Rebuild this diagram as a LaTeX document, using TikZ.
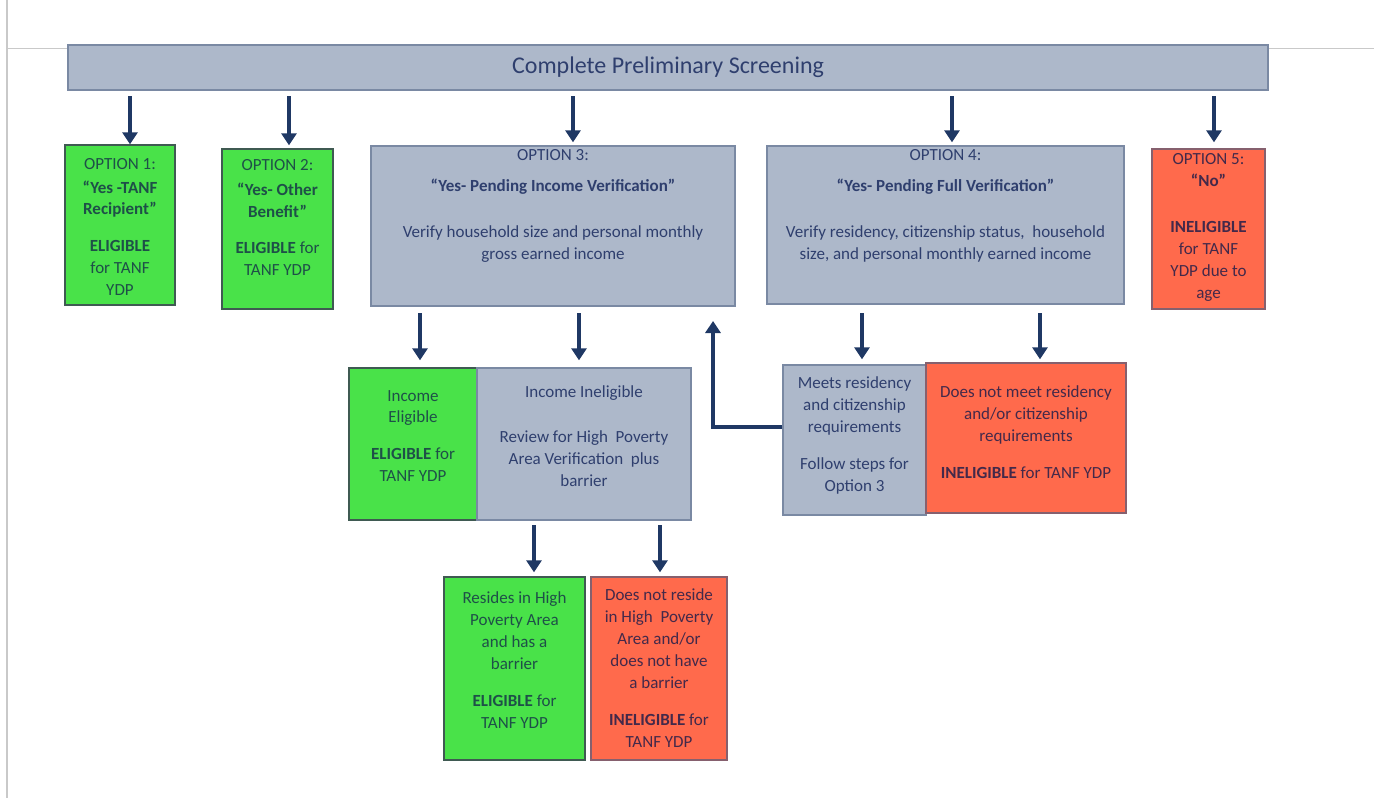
\documentclass[tikz,border=0pt]{standalone}
\usepackage{fontspec}
\setmainfont{Carlito}
\usetikzlibrary{arrows.meta}
\definecolor{navy}{HTML}{1F3864}
\definecolor{bgfill}{HTML}{ADB8CA}
\definecolor{bgdraw}{HTML}{7A89A3}
\definecolor{grfill}{HTML}{49E249}
\definecolor{grdraw}{HTML}{3F5A52}
\definecolor{rdfill}{HTML}{FF6A4C}
\definecolor{rddraw}{HTML}{86606E}
\definecolor{tblue}{HTML}{2F3F6E}
\definecolor{tgreen}{HTML}{1E5048}
\definecolor{tred}{HTML}{43294A}
\definecolor{frame}{HTML}{C9C9C9}
\tikzset{
  bbox/.style={draw=bgdraw, fill=bgfill, line width=1.4pt, inner sep=0pt},
  gbox/.style={draw=grdraw, fill=grfill, line width=1.4pt, inner sep=0pt},
  rbox/.style={draw=rddraw, fill=rdfill, line width=1.4pt, inner sep=0pt},
  txt/.style={align=center, inner sep=0pt, anchor=north, font=\fontsize{17pt}{22pt}\selectfont},
  btxt/.style={txt, text=tblue},
  gtxt/.style={txt, text=tgreen},
  rtxt/.style={txt, text=tred},
  arr/.style={draw=navy, line width=4.5pt, -{Triangle[width=15pt,length=12pt]}},
}
\begin{document}
\begin{tikzpicture}[x=1pt,y=-1pt]
\useasboundingbox (0,0) rectangle (1374,798);
\fill[white] (0,0) rectangle (1374,798);
% page frame lines
\draw[frame, line width=2pt] (7,0) -- (7,798);
\draw[frame, line width=1.2pt] (7,48.5) -- (1374,48.5);

% banner
\node[bbox, minimum width=1200pt, minimum height=45pt, text=tblue, font=\fontsize{24pt}{28pt}\selectfont] (banner) at (668,67.5) {Complete Preliminary Screening};

% option boxes
\node[gbox, minimum width=110pt, minimum height=160pt] (o1) at (120,225) {};
\node[gbox, minimum width=111pt, minimum height=160pt] (o2) at (277.5,229) {};
\node[bbox, minimum width=364pt, minimum height=160pt] (o3) at (553,226) {};
\node[bbox, minimum width=357pt, minimum height=158pt] (o4) at (945.5,225) {};
\node[rbox, minimum width=113pt, minimum height=160pt] (o5) at (1208.5,229) {};

\node[gtxt] (o1t) at (120,158) {OPTION 1:\\[2pt]\textbf{“Yes -TANF}\\[-1pt]\textbf{Recipient”}\\[15pt]\textbf{ELIGIBLE}\\for TANF\\YDP};
\node[gtxt] (o2t) at (277.5,159) {OPTION 2:\\[3pt]\textbf{“Yes- Other}\\\textbf{Benefit”}\\[14pt]\textbf{ELIGIBLE} for\\TANF YDP};
\node[btxt] (o3t) at (553,149) {OPTION 3:\\[9pt]\textbf{“Yes- Pending Income Verification”}\\[24pt]Verify household size and personal monthly\\gross earned income};
\node[btxt] (o4t) at (945.5,149) {OPTION 4:\\[9pt]\textbf{“Yes- Pending Full Verification”}\\[24pt]Verify residency, citizenship status, \ household\\size, and personal monthly earned income};
\node[rtxt] (o5t) at (1208.5,153) {OPTION 5:\\\textbf{“No”}\\[24pt]\textbf{INELIGIBLE}\\for TANF\\YDP due to\\age};

% arrows from banner
\coordinate (s1) at (130,96);
\coordinate (s2) at (289,96);
\coordinate (s3) at (573,96);
\coordinate (s4) at (952,96);
\coordinate (s5) at (1214,96);
\draw[arr] (s1) -- (s1 |- o1.north);
\draw[arr] (s2) -- ([yshift=3pt]s2 |- o2.north);
\draw[arr] (s3) -- ([yshift=3pt]s3 |- o3.north);
\draw[arr] (s4) -- ([yshift=3pt]s4 |- o4.north);
\draw[arr] (s5) -- ([yshift=6pt]s5 |- o5.north);

% second row
\node[gbox, minimum width=128pt, minimum height=152pt] (ie) at (413,444) {};
\node[bbox, minimum width=214pt, minimum height=152pt] (ii) at (584,444) {};
\node[bbox, minimum width=143pt, minimum height=150pt] (mr) at (854.5,440) {};
\node[rbox, minimum width=200pt, minimum height=150pt] (nm) at (1026,438) {};

\node[gtxt] (iet) at (413,390) {Income\\[-1pt]Eligible\\[15pt]\textbf{ELIGIBLE} for\\TANF YDP};
\node[btxt] (iit) at (584,385) {Income Ineligible\\[23pt]Review for High \ Poverty\\Area Verification \ plus\\barrier};
\node[btxt] (mrt) at (854.5,376) {Meets residency\\and citizenship\\requirements\\[15pt]Follow steps for\\Option 3};
\node[rtxt] (nmt) at (1026,385) {Does not meet residency\\and/or citizenship\\requirements\\[15pt]\textbf{INELIGIBLE} for TANF YDP};

\coordinate (s6) at (420,313);
\coordinate (s7) at (579,313);
\coordinate (s8) at (862,313);
\coordinate (s9) at (1040,313);
\draw[arr] (s6) -- ([yshift=7pt]s6 |- ie.north);
\draw[arr] (s7) -- ([yshift=7pt]s7 |- ii.north);
\draw[arr] (s8) -- ([yshift=5pt]s8 |- mr.north);
\draw[arr] (s9) -- ([yshift=3pt]s9 |- nm.north);

% loop back to option 3
\coordinate (up) at (713,321);
\draw[arr] ([yshift=13pt]mr.west) -| (up);

% third row
\node[gbox, minimum width=141pt, minimum height=183pt] (rh) at (514.5,668.5) {};
\node[rbox, minimum width=136pt, minimum height=183pt] (nr) at (659,668.5) {};

\node[gtxt] (rht) at (514.5,591) {Resides in High\\Poverty Area\\and has a\\barrier\\[15pt]\textbf{ELIGIBLE} for\\TANF YDP};
\node[rtxt] (nrt) at (659,588) {Does not reside\\in High \ Poverty\\Area and/or\\does not have\\a barrier\\[15pt]\textbf{INELIGIBLE} for\\TANF YDP};

\coordinate (s10) at (534,525);
\coordinate (s11) at (660,525);
\draw[arr] (s10) -- ([yshift=4pt]s10 |- rh.north);
\draw[arr] (s11) -- ([yshift=4pt]s11 |- nr.north);
\end{tikzpicture}
\end{document}
